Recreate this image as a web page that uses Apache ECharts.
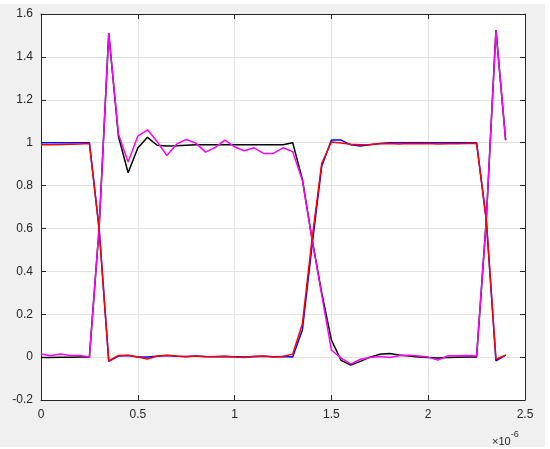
<!DOCTYPE html>
<html>
<head>
<meta charset="utf-8">
<script src="https://cdn.jsdelivr.net/npm/echarts@6/dist/echarts.min.js"></script>
<style>
  html, body { margin: 0; padding: 0; background: #ffffff; }
  #chart { position: absolute; left: 0; top: 4px; width: 545px; height: 443px; }
</style>
</head>
<body>
<div id="chart"></div>
<script>
// time in microseconds (axis shows ×10^-6 s)
const timeUs = [0, 0.05, 0.1, 0.15, 0.2, 0.25, 0.3, 0.35, 0.4, 0.45,
  0.5, 0.55, 0.6, 0.65, 0.7, 0.75, 0.8, 0.85, 0.9, 0.95,
  1.0, 1.05, 1.1, 1.15, 1.2, 1.25, 1.3, 1.35, 1.4, 1.45,
  1.5, 1.55, 1.6, 1.65, 1.7, 1.75, 1.8, 1.85, 1.9, 1.95,
  2.0, 2.05, 2.1, 2.15, 2.2, 2.25, 2.3, 2.35, 2.4];

const blueSeries = [1.0, 1.0, 1.0, 1.0, 1.0, 1.0, 0.6, -0.02, 0.005, 0.008,
  0.0, 0.001, 0.004, 0.007, 0.004, 0.003, 0.005, 0.003, 0.002, 0.003,
  0.002, 0.0, 0.002, 0.004, 0.002, 0.003, 0.0, 0.126, 0.52, 0.89,
  1.012, 1.012, 0.99, 0.984, 0.99, 0.996, 1.0, 1.0, 1.0, 1.0,
  1.0, 1.0, 1.0, 1.0, 1.0, 1.0, 0.64, -0.017, 0.009];

const redSeries = [0.99, 0.99, 0.992, 0.993, 0.994, 0.996, 0.6, -0.018, 0.008, 0.009,
  0.001, -0.009, 0.005, 0.009, 0.005, 0.002, 0.005, 0.002, 0.003, 0.004,
  0.001, -0.002, 0.004, 0.005, 0.001, 0.003, 0.014, 0.154, 0.55, 0.903,
  1.003, 0.998, 0.993, 0.99, 0.992, 0.995, 0.996, 0.994, 0.996, 0.995,
  0.996, 0.994, 0.995, 0.995, 0.996, 0.997, 0.64, -0.01, 0.009];

const blackSeries = [-0.002, -0.002, -0.001, -0.001, 0.0, 0.0, 0.6, 1.51, 1.03, 0.86,
  0.975, 1.025, 0.988, 0.985, 0.986, 0.988, 0.99, 0.99, 0.99, 0.99,
  0.99, 0.99, 0.99, 0.99, 0.99, 0.99, 1.0, 0.83, 0.55, 0.3,
  0.08, -0.015, -0.037, -0.02, 0.0, 0.013, 0.017, 0.01, 0.005, 0.001,
  -0.002, -0.004, -0.002, -0.001, 0.0, 0.0, 0.64, 1.525, 1.012];

const magentaSeries = [0.015, 0.006, 0.015, 0.008, 0.007, 0.0, 0.6, 1.51, 1.04, 0.91,
  1.03, 1.06, 1.005, 0.94, 0.993, 1.015, 0.998, 0.956, 0.978, 1.012,
  0.98, 0.962, 0.976, 0.95, 0.95, 0.976, 0.958, 0.825, 0.55, 0.29,
  0.033, -0.005, -0.033, -0.01, -0.002, 0.003, -0.002, 0.006, 0.009, 0.005,
  0.0, -0.014, 0.006, 0.006, 0.007, 0.005, 0.64, 1.525, 1.012];

const xTicks = { min: 0, max: 2.5, interval: 0.5 };
const yTicks = { min: -0.2, max: 1.6, interval: 0.2 };
const exponentLabel = ['×10', '-6'];

function pairs(vals) { return timeUs.map((t, i) => [t, vals[i]]); }

const axisColor = '#262626';
const font = 'Liberation Sans, Arial, Helvetica, sans-serif';

const chart = echarts.init(document.getElementById('chart'), null, { renderer: 'canvas' });

function xAxisDef(pos, showLabel) {
  return {
    type: 'value', position: pos, min: xTicks.min, max: xTicks.max, interval: xTicks.interval,
    axisLine: { show: true, onZero: false, lineStyle: { color: axisColor, width: 1 } },
    axisTick: { show: true, inside: true, length: 5, lineStyle: { color: axisColor } },
    axisLabel: { show: showLabel, color: axisColor, fontSize: 12, fontFamily: font, margin: 9 },
    splitLine: { show: showLabel, lineStyle: { color: '#e3e3e3', width: 1 } }
  };
}
function yAxisDef(pos, showLabel) {
  return {
    type: 'value', position: pos, min: yTicks.min, max: yTicks.max, interval: yTicks.interval,
    axisLine: { show: true, onZero: false, lineStyle: { color: axisColor, width: 1 } },
    axisTick: { show: true, inside: true, length: 5, lineStyle: { color: axisColor } },
    axisLabel: { show: showLabel, color: axisColor, fontSize: 12, fontFamily: font, margin: 8 },
    splitLine: { show: showLabel, lineStyle: { color: '#e3e3e3', width: 1 } }
  };
}

function lineSeries(name, vals, color) {
  return {
    name: name, type: 'line', data: pairs(vals), showSymbol: false, symbol: 'none',
    lineStyle: { color: color, width: 1.5 }, itemStyle: { color: color },
    xAxisIndex: 0, yAxisIndex: 0
  };
}

chart.setOption({
  animation: false,
  backgroundColor: '#f0f0f0',
  grid: { left: 41, top: 10, width: 484, height: 386, show: true, backgroundColor: '#ffffff', borderWidth: 0 },
  xAxis: [xAxisDef('bottom', true), xAxisDef('top', false)],
  yAxis: [yAxisDef('left', true), yAxisDef('right', false)],
  series: [
    lineSeries('blue', blueSeries, '#0000ff'),
    lineSeries('black', blackSeries, '#000000'),
    lineSeries('magenta', magentaSeries, '#ff00ff'),
    lineSeries('red', redSeries, '#ff0000')
  ],
  graphic: [
    {
      type: 'text', left: 492, top: 426,
      style: {
        text: '{a|' + exponentLabel[0] + '}{b|' + exponentLabel[1] + '}',
        rich: {
          a: { fontSize: 11, fontFamily: font, fill: axisColor, color: axisColor, verticalAlign: 'bottom' },
          b: { fontSize: 9, fontFamily: font, fill: axisColor, color: axisColor, verticalAlign: 'top', padding: [0, 0, 8, 0] }
        }
      }
    }
  ]
});
</script>
</body>
</html>
